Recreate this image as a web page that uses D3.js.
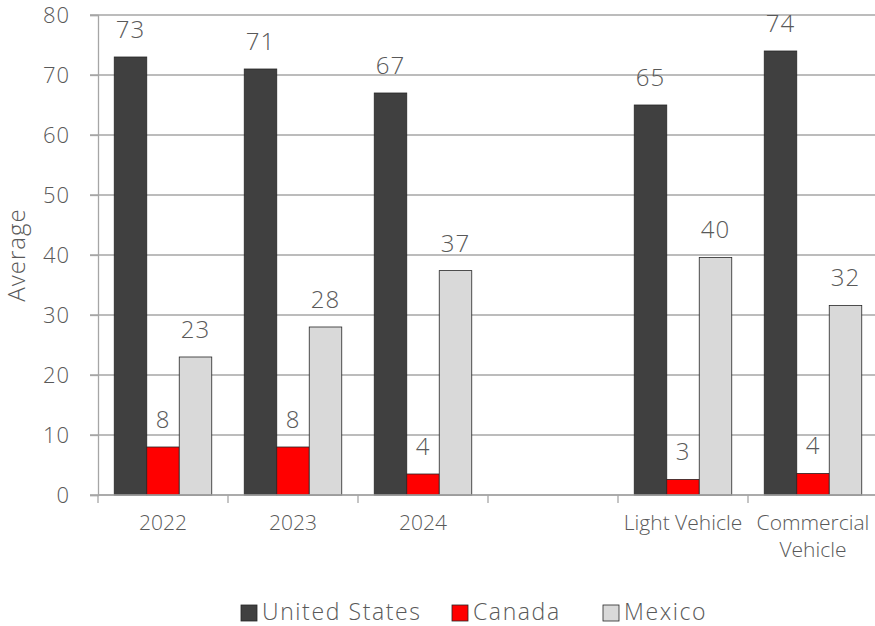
<!DOCTYPE html>
<html>
<head>
<meta charset="utf-8">
<script src="https://cdn.jsdelivr.net/npm/d3@7"></script>
<style>
  html, body { margin: 0; padding: 0; background: #fff; }
  svg { display: block; }
  text { font-family: "Open Sans", "Lato", sans-serif; font-weight: 300; fill: #595959; }
</style>
</head>
<body>
<svg id="chart" width="875" height="626"></svg>
<script>
const categories = ["2022", "2023", "2024", "", "Light Vehicle", "Commercial Vehicle"];
const seriesNames = ["United States", "Canada", "Mexico"];
const unitedStates = [73, 71, 67, null, 65, 74];
const canada = [8, 8, 3.5, null, 2.6, 3.6];
const mexico = [23, 28, 37.4, null, 39.6, 31.6];
const yTicks = [0, 10, 20, 30, 40, 50, 60, 70, 80];
const colors = ["#404040", "#ff0000", "#d9d9d9"];

const seriesValues = [unitedStates, canada, mexico];
const svg = d3.select("#chart");
const plotLeft = 98, plotRight = 878, plotTop = 15, plotBottom = 495;
const FONT = "'Open Sans', Lato, sans-serif";

const x0 = d3.scaleBand().domain(categories.map((c, i) => i)).range([plotLeft, plotRight]).padding(0);
const groupPad = x0.bandwidth() * 0.125;
const x1 = d3.scaleBand().domain(seriesNames).range([groupPad, x0.bandwidth() - groupPad]).padding(0);
const y = d3.scaleLinear().domain([0, 80]).range([plotBottom, plotTop]);

// gridlines
svg.append("g").selectAll("line").data(yTicks).join("line")
  .attr("x1", plotLeft - 8).attr("x2", plotRight)
  .attr("y1", d => y(d)).attr("y2", d => y(d))
  .attr("stroke", "#a6a6a6").attr("stroke-width", 1.3);

// y axis
const yAxis = svg.append("g").attr("transform", `translate(${plotLeft},0)`)
  .call(d3.axisLeft(y).tickValues(yTicks).tickSize(8).tickPadding(20));
yAxis.select(".domain").attr("stroke", "#a6a6a6").attr("stroke-width", 1.3);
yAxis.selectAll(".tick line").attr("stroke", "#a6a6a6").attr("stroke-width", 1.3);
yAxis.selectAll(".tick text").style("font-size", "22px").attr("fill", "#595959")
  .style("font-family", FONT).style("font-weight", 300).style("letter-spacing", "1px");

// bars
const groups = svg.append("g").selectAll("g").data(categories.map((c, i) => i)).join("g")
  .attr("transform", i => `translate(${x0(i)},0)`);

groups.each(function(ci) {
  const g = d3.select(this);
  seriesNames.forEach((s, si) => {
    const v = seriesValues[si][ci];
    if (v == null) return;
    g.append("rect")
      .attr("x", x1(s)).attr("width", x1.bandwidth())
      .attr("y", y(v)).attr("height", y(0) - y(v))
      .attr("fill", colors[si]).attr("stroke", "#262626").attr("stroke-width", 0.8);
    g.append("text")
      .attr("x", x1(s) + x1.bandwidth() / 2)
      .attr("y", y(v) - 19)
      .attr("text-anchor", "middle")
      .style("font-size", "24px")
      .style("letter-spacing", "1px")
      .text(d3.format(".0f")(Math.round(v)));
  });
});

// x axis
const xAxis = svg.append("g").attr("transform", `translate(0,${plotBottom})`);
xAxis.append("line").attr("x1", plotLeft).attr("x2", plotRight).attr("y1", 0).attr("y2", 0)
  .attr("stroke", "#a6a6a6").attr("stroke-width", 1.3);
const boundaries = categories.map((c, i) => x0(i)).concat([plotRight]);
xAxis.selectAll("line.tick").data(boundaries).join("line").attr("class", "tick")
  .attr("x1", d => d).attr("x2", d => d).attr("y1", 0).attr("y2", 8)
  .attr("stroke", "#a6a6a6").attr("stroke-width", 1.3);

// x labels with wrapping
categories.forEach((c, i) => {
  if (!c) return;
  const cx = x0(i) + x0.bandwidth() / 2;
  const t = xAxis.append("text").attr("text-anchor", "middle").style("font-size", "21px");
  const words = c.split(" ");
  let lines = [];
  let line = [];
  const tmp = svg.append("text").style("font-size", "21px");
  words.forEach(w => {
    const test = line.concat([w]).join(" ");
    tmp.text(test);
    if (tmp.node().getComputedTextLength() > x0.bandwidth() - 4 && line.length) {
      lines.push(line.join(" "));
      line = [w];
    } else line.push(w);
  });
  lines.push(line.join(" "));
  tmp.remove();
  lines.forEach((l, li) => {
    t.append("tspan").attr("x", cx).attr("y", 35 + li * 27).text(l);
  });
});

// y title
svg.append("text")
  .attr("transform", `translate(25,${(plotTop + plotBottom) / 2}) rotate(-90)`)
  .attr("text-anchor", "middle")
  .style("font-size", "24px")
  .style("letter-spacing", "1px")
  .text("Average");

// legend
const legendX = [241, 452, 603];
const legend = svg.append("g");
seriesNames.forEach((s, si) => {
  legend.append("rect").attr("x", legendX[si]).attr("y", 605).attr("width", 16).attr("height", 16)
    .attr("fill", colors[si]).attr("stroke", "#262626").attr("stroke-width", 0.8);
  legend.append("text").attr("x", legendX[si] + 21).attr("y", 620)
    .style("font-size", "23px").style("letter-spacing", "1.6px").text(s);
});
</script>
</body>
</html>
